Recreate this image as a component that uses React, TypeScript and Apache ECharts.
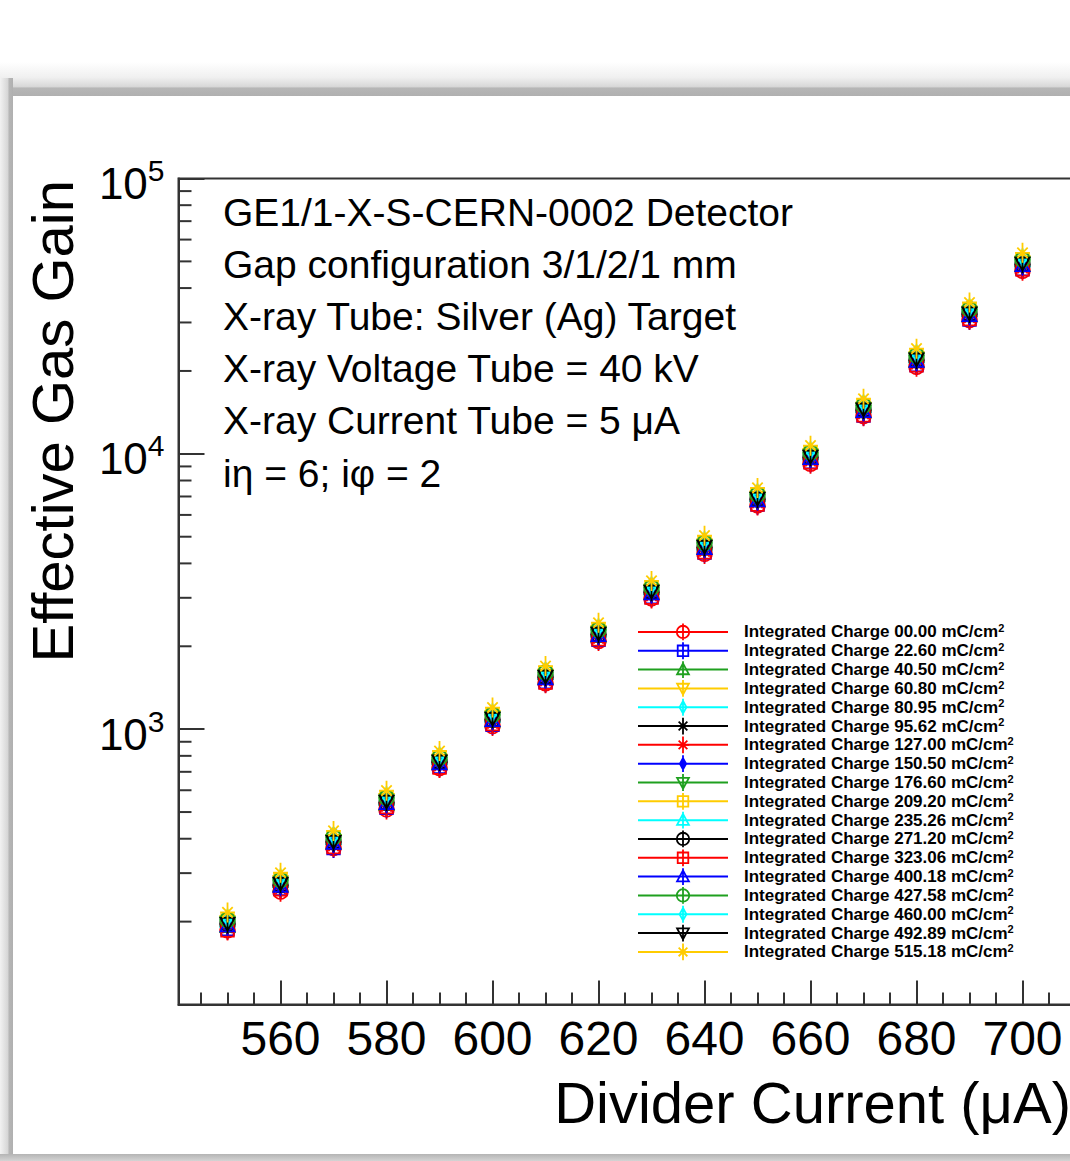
import React, { useEffect, useRef } from 'react';
import * as echarts from 'echarts';

// ---------------- data ----------------
const dividerCurrent = [550, 560, 570, 580, 590, 600, 610, 620, 630, 640, 650, 660, 670, 680, 690, 700];

const chargeLabels = ['00.00', '22.60', '40.50', '60.80', '80.95', '95.62', '127.00', '150.50', '176.60',
  '209.20', '235.26', '271.20', '323.06', '400.18', '427.58', '460.00', '492.89', '515.18'];

const gainQ000 = [186, 257, 370, 511, 722, 1026, 1468, 2090, 2985, 4330, 6495, 9200, 13700, 20700, 30600, 46200];
const gainQ022 = [188, 263, 370, 518, 730, 1038, 1482, 2112, 3018, 4380, 6540, 9330, 13780, 21000, 30750, 46900];
const gainQ040 = [192, 271, 386, 534, 752, 1070, 1530, 2180, 3110, 4530, 6750, 9620, 14220, 21700, 31750, 48300];
const gainQ060 = [200, 279, 394, 555, 771, 1110, 1570, 2260, 3195, 4670, 6960, 9920, 14650, 22350, 32750, 49800];
const gainQ080 = [196, 276, 393, 546, 767, 1093, 1560, 2226, 3175, 4610, 6905, 9790, 14550, 22080, 32500, 49250];
const gainQ095 = [190, 268, 381, 529, 744, 1060, 1512, 2160, 3080, 4470, 6700, 9500, 14100, 21400, 31500, 47700];
const gainQ127 = [190, 263, 377, 524, 736, 1050, 1497, 2136, 3046, 4425, 6630, 9400, 13960, 21180, 31200, 47250];
const gainQ150 = [192, 266, 379, 532, 740, 1065, 1508, 2166, 3070, 4482, 6680, 9515, 14080, 21450, 31450, 47800];
const gainQ176 = [198, 274, 393, 548, 764, 1098, 1555, 2234, 3168, 4620, 6890, 9815, 14520, 22110, 32440, 49300];
const gainQ209 = [202, 285, 403, 565, 786, 1131, 1600, 2302, 3260, 4765, 7100, 10110, 14950, 22800, 33400, 50800];
const gainQ235 = [201, 280, 401, 558, 783, 1116, 1592, 2272, 3238, 4705, 7045, 10000, 14840, 22520, 33150, 50250];
const gainQ271 = [196, 271, 389, 541, 760, 1083, 1545, 2205, 3142, 4565, 6835, 9700, 14400, 21850, 32150, 48750];
const gainQ323 = [186, 262, 373, 521, 725, 1043, 1476, 2120, 3005, 4390, 6545, 9320, 13790, 20960, 30850, 46750];
const gainQ400 = [193, 269, 385, 537, 749, 1075, 1524, 2187, 3103, 4528, 6755, 9612, 14235, 21660, 31800, 48250];
const gainQ427 = [203, 283, 405, 563, 789, 1128, 1606, 2296, 3268, 4752, 7110, 10095, 14980, 22750, 33460, 50700];
const gainQ460 = [205, 287, 407, 571, 795, 1142, 1618, 2324, 3295, 4810, 7170, 10210, 15100, 23000, 33750, 51300];
const gainQ492 = [197, 276, 391, 548, 766, 1095, 1558, 2229, 3171, 4615, 6900, 9800, 14540, 22090, 32470, 49260];
const gainQ515 = [216, 301, 427, 598, 833, 1198, 1695, 2436, 3455, 5045, 7520, 10710, 15850, 24100, 35450, 53700];

const allGains = [gainQ000, gainQ022, gainQ040, gainQ060, gainQ080, gainQ095, gainQ127, gainQ150, gainQ176,
  gainQ209, gainQ235, gainQ271, gainQ323, gainQ400, gainQ427, gainQ460, gainQ492, gainQ515];

const yMinorTickValues = [200, 300, 400, 500, 600, 700, 800, 900,
  2000, 3000, 4000, 5000, 6000, 7000, 8000, 9000,
  20000, 30000, 40000, 50000, 60000, 70000, 80000, 90000];

const infoLines = [
  'GE1/1-X-S-CERN-0002 Detector',
  'Gap configuration 3/1/2/1 mm',
  'X-ray Tube: Silver (Ag) Target',
  'X-ray Voltage Tube = 40 kV',
  'X-ray Current Tube = 5 \u03bcA',
  'i\u03b7 = 6; i\u03c6 = 2',
];

// ---------------- styles ----------------
const RED = '#ff0000';
const BLUE = '#0000ff';
const GREEN = '#1fa01f';
const YELLOW = '#ffcc00';
const CYAN = '#00ffff';
const BLACK = '#000000';

const seriesColors = [RED, BLUE, GREEN, YELLOW, CYAN, BLACK, RED, BLUE, GREEN, YELLOW, CYAN, BLACK,
  RED, BLUE, GREEN, CYAN, BLACK, YELLOW];
const seriesMarkers = ['circle', 'square', 'triUp', 'triDown', 'diamond', 'star', 'star', 'fullDiamond',
  'triDown', 'square', 'triUp', 'circle', 'square', 'triUp', 'circle', 'diamond', 'triDown', 'star'];

const BAR = 'M0,-1.35 L0,1.35 M-1.35,0 M1.35,0';
const markerPaths: Record<string, string> = {
  circle: 'path://M1,0 A1,1 0 1,1 -1,0 A1,1 0 1,1 1,0 Z ' + BAR,
  square: 'path://M-0.85,-0.85 L0.85,-0.85 L0.85,0.85 L-0.85,0.85 Z ' + BAR,
  triUp: 'path://M0,-1 L0.95,0.75 L-0.95,0.75 Z ' + BAR,
  triDown: 'path://M0,1 L0.95,-0.75 L-0.95,-0.75 Z ' + BAR,
  diamond: 'path://M0,-1 L0.55,0 L0,1 L-0.55,0 Z ' + BAR,
  fullDiamond: 'path://M0,-0.9 L0.5,0 L0,0.9 L-0.5,0 Z ' + BAR,
  star: 'path://M0,-1 L0,1 M-1,0 L1,0 M-0.7,-0.7 L0.7,0.7 M-0.7,0.7 L0.7,-0.7 ' + BAR,
};

const FONT = "'Liberation Sans', Arial, Helvetica, sans-serif";
const X_MIN = 540.75;
const X_MAX = 710;

export default function App() {
  const ref = useRef<HTMLDivElement>(null);

  useEffect(() => {
    if (!ref.current) return;
    const chart = echarts.init(ref.current, undefined, { renderer: 'svg' });

    const dataSeries = allGains.map((vals, i) => {
      const c = seriesColors[i];
      const filled = seriesMarkers[i] === 'fullDiamond';
      return {
        type: 'line',
        name: chargeLabels[i],
        data: dividerCurrent.map((x, k) => [x, vals[k]]),
        symbol: markerPaths[seriesMarkers[i]],
        symbolSize: 20,
        showSymbol: true,
        lineStyle: { color: c, width: 0 },
        itemStyle: { color: filled ? c : 'rgba(0,0,0,0)', borderColor: c, borderWidth: 1.8 },
        emphasis: { disabled: true },
        z: 3 + i,
      };
    });

    const minorTickSeries = {
      type: 'custom',
      name: 'yMinorTicks',
      silent: true,
      clip: false,
      data: yMinorTickValues.map((v) => [X_MIN, v]),
      renderItem: (params: any, api: any) => {
        const p = api.coord([api.value(0), api.value(1)]);
        return {
          type: 'line',
          shape: { x1: p[0], y1: p[1], x2: p[0] + 13, y2: p[1] },
          style: { stroke: '#333', lineWidth: 2 },
        };
      },
      z: 2,
    };

    const bg = [
      { type: 'rect', z: -10, shape: { x: 0, y: 0, width: 1070, height: 1161 }, style: { fill: '#ffffff' } },
      {
        type: 'rect', z: -9, shape: { x: 0, y: 62, width: 1070, height: 34 },
        style: {
          fill: {
            type: 'linear', x: 0, y: 0, x2: 0, y2: 1,
            colorStops: [
              { offset: 0, color: '#ffffff' }, { offset: 0.45, color: '#f0f0f0' },
              { offset: 0.72, color: '#d8d8d8' }, { offset: 0.77, color: '#b6b6b6' }, { offset: 1, color: '#b0b0b0' },
            ],
          },
        },
      },
      {
        type: 'rect', z: -9, shape: { x: 0, y: 78, width: 13, height: 1083 },
        style: {
          fill: {
            type: 'linear', x: 0, y: 0, x2: 1, y2: 0,
            colorStops: [
              { offset: 0, color: '#f2f2f2' }, { offset: 0.6, color: '#d6d6d6' },
              { offset: 0.7, color: '#b6b6b6' }, { offset: 1, color: '#b0b0b0' },
            ],
          },
        },
      },
      {
        type: 'rect', z: -9, shape: { x: 0, y: 1154, width: 1070, height: 7 },
        style: {
          fill: {
            type: 'linear', x: 0, y: 0, x2: 0, y2: 1,
            colorStops: [{ offset: 0, color: '#b4b4b4' }, { offset: 1, color: '#d4d4d4' }],
          },
        },
      },
      { type: 'rect', z: -8, shape: { x: 13, y: 96, width: 1057, height: 1058 }, style: { fill: '#ffffff' } },
    ];

    const texts: any[] = infoLines.map((t, i) => ({
      type: 'text',
      z: 50,
      x: 223,
      y: 212 + i * 52.2,
      style: {
        text: t, fill: '#000', font: `39px ${FONT}`,
        align: 'left', verticalAlign: 'middle', textAlign: 'left', textVerticalAlign: 'middle',
      },
    }));
    texts.push({
      type: 'text', z: 50, x: 52, y: 180, rotation: Math.PI / 2,
      style: {
        text: 'Effective Gas Gain', fill: '#000', font: `58px ${FONT}`,
        align: 'right', verticalAlign: 'middle', textAlign: 'right', textVerticalAlign: 'middle',
      },
    });
    texts.push({
      type: 'text', z: 50, x: 1071, y: 1102,
      style: {
        text: 'Divider Current (\u03bcA)', fill: '#000', font: `58px ${FONT}`,
        align: 'right', verticalAlign: 'middle', textAlign: 'right', textVerticalAlign: 'middle',
      },
    });

    const option: any = {
      animation: false,
      backgroundColor: 'transparent',
      grid: {
        left: 178.5, top: 178.5, width: 897, height: 826,
        show: true, borderColor: '#333', borderWidth: 2, backgroundColor: 'transparent',
        containLabel: false, outerBoundsMode: 'none',
      },
      xAxis: {
        type: 'value',
        min: X_MIN,
        max: X_MAX,
        splitNumber: 8,
        minInterval: 20,
        maxInterval: 20,
        axisLine: { show: true, lineStyle: { color: '#333', width: 2 } },
        axisTick: { show: true, inside: true, length: 24, lineStyle: { color: '#333', width: 2 } },
        minorTick: { show: true, splitNumber: 4, length: 12, lineStyle: { color: '#333', width: 2 } },
        splitLine: { show: false },
        minorSplitLine: { show: false },
        axisLabel: {
          show: true, margin: 9.5, color: '#000', fontFamily: FONT, fontSize: 48, lineHeight: 48,
          showMinLabel: true, showMaxLabel: true,
          formatter: (v: number) => (Math.abs(v % 20) < 1e-6 ? String(Math.round(v)) : ''),
        },
      },
      yAxis: {
        type: 'log',
        logBase: 10,
        min: 100,
        max: 100000,
        axisLine: { show: true, lineStyle: { color: '#333', width: 2 } },
        axisTick: { show: true, inside: true, length: 26, lineStyle: { color: '#333', width: 2 } },
        splitLine: { show: false },
        axisLabel: {
          show: true, margin: 14, color: '#000', fontFamily: FONT, padding: [10, 0, 0, 0],
          showMinLabel: true, showMaxLabel: true,
          formatter: (v: number) => {
            const e = Math.round(Math.log10(v));
            return e === 2 ? '' : `{b|10}{s|${e}}`;
          },
          rich: {
            b: { fontSize: 44, lineHeight: 56, fontFamily: FONT, color: '#000' },
            s: { fontSize: 30, lineHeight: 30, verticalAlign: 'top', fontFamily: FONT, color: '#000' },
          },
        },
      },
      legend: {
        show: true,
        orient: 'vertical',
        left: 637,
        top: 622.6,
        padding: 0,
        itemWidth: 90,
        itemHeight: 21,
        itemGap: 0.12,
        selectedMode: false,
        data: chargeLabels,
        formatter: (name: string) => `Integrated Charge ${name} mC/cm{s|2}`,
        lineStyle: { width: 2, opacity: 1 },
        itemStyle: { borderWidth: 1.8 },
        textStyle: {
          color: '#000', fontFamily: FONT, fontWeight: 'bold', fontSize: 17, lineHeight: 18.7,
          padding: [0, 0, 0, 11],
          rich: { s: { fontSize: 11, fontWeight: 'bold', lineHeight: 4, verticalAlign: 'top', fontFamily: FONT, color: '#000' } },
        },
      },
      graphic: { elements: [...bg, ...texts] },
      series: [minorTickSeries, ...dataSeries],
    };

    chart.setOption(option);
    return () => chart.dispose();
  }, []);

  return (
    <div
      ref={ref}
      style={{ position: 'absolute', left: 0, top: 0, width: 1070, height: 1161 }}
    />
  );
}
